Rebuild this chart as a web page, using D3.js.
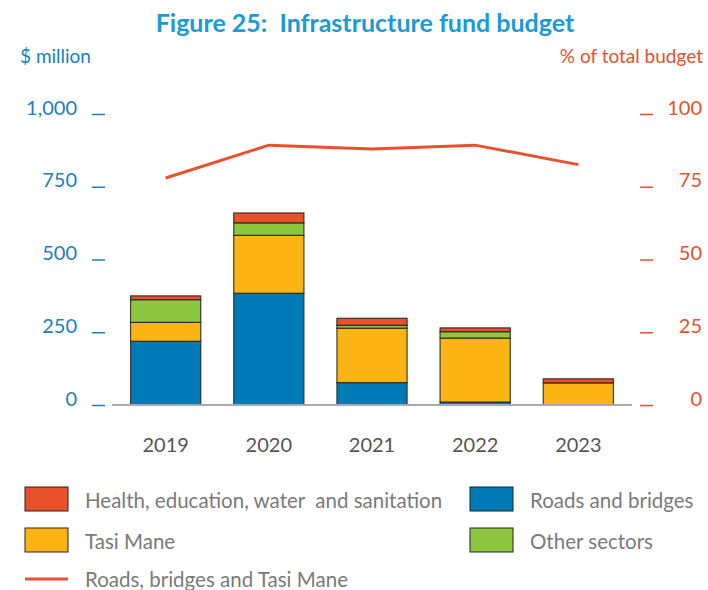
<!DOCTYPE html>
<html>
<head>
<meta charset="utf-8">
<script src="https://cdn.jsdelivr.net/npm/d3@7"></script>
<style>
  body { margin: 0; background: #fff; }
  svg { font-family: Lato, "Open Sans", sans-serif; }
  text { white-space: pre; }
</style>
</head>
<body>
<div class="graph"></div>
<script>
const years = ["2019", "2020", "2021", "2022", "2023"];
const roadsBridges = [219, 384, 77, 10, 1];
const tasiMane = [65, 199, 187, 220, 75];
const otherSectors = [78, 43, 10, 22, 0];
const healthEdu = [13, 34, 24, 13, 14];
const sharePct = [78, 89.3, 88, 89.3, 82.6];
const leftTicks = [0, 250, 500, 750, 1000];
const rightTicks = [0, 25, 50, 75, 100];

const width = 708, height = 590;
const blue = "#007bb8", yellow = "#fcb415", green = "#8dc63f", red = "#e8512b";

const rows = years.map((y, i) => ({
    year: y,
    roads: roadsBridges[i],
    tasi: tasiMane[i],
    other: otherSectors[i],
    health: healthEdu[i]
}));
const keys = ["roads", "tasi", "other", "health"];
const colors = {roads: blue, tasi: yellow, other: green, health: red};
const stacked = d3.stack().keys(keys)(rows);

const svg = d3.select(".graph").append("svg")
    .attr("width", width)
    .attr("height", height);

const x = d3.scaleBand()
    .domain(years)
    .range([112, 632])
    .paddingInner(0.32)
    .paddingOuter(0.18);

const y = d3.scaleLinear().domain([0, 1000]).range([405, 114]);
const yPct = d3.scaleLinear().domain([0, 100]).range([405, 114]);

// title and axis titles
svg.append("text")
    .attr("x", 365).attr("y", 32)
    .attr("text-anchor", "middle")
    .style("font-size", "25px").style("font-weight", "bold")
    .style("fill", "#1a9ad6")
    .text("Figure 25:  Infrastructure fund budget");

svg.append("text")
    .attr("x", 20).attr("y", 63)
    .style("font-size", "19px").style("fill", "#1a80c0")
    .text("$ million");

svg.append("text")
    .attr("x", 703).attr("y", 63)
    .attr("text-anchor", "end")
    .style("font-size", "19px").style("fill", red)
    .text("% of total budget");

// bars
svg.append("g")
    .selectAll("g")
    .data(stacked)
    .join("g")
    .attr("fill", d => colors[d.key])
    .selectAll("rect")
    .data(d => d)
    .join("rect")
    .attr("x", d => x(d.data.year))
    .attr("width", x.bandwidth())
    .attr("y", d => y(d[1]))
    .attr("height", d => y(d[0]) - y(d[1]))
    .attr("stroke", "#222")
    .attr("stroke-opacity", 0.85)
    .attr("stroke-width", 1.2);

// baseline
svg.append("line")
    .attr("x1", 112).attr("x2", 632)
    .attr("y1", y(0)).attr("y2", y(0))
    .style("stroke", "#aaa")
    .style("stroke-width", 2);

// left axis
svg.append("g")
    .attr("transform", "translate(105,0)")
    .call(d3.axisLeft(y).tickValues(leftTicks).tickSize(13).tickPadding(15)
        .tickFormat(d3.format(",")))
    .call(g => g.select(".domain").remove())
    .call(g => g.selectAll("line").attr("stroke", "#1a80c0").attr("stroke-width", 1.5))
    .call(g => g.selectAll("text").attr("dy", 0).attr("fill", "#1a80c0")
        .style("font-size", "20px").style("font-family", "Lato, sans-serif"));

// right axis
svg.append("g")
    .attr("transform", "translate(640,0)")
    .call(d3.axisRight(yPct).tickValues(rightTicks).tickSize(13))
    .call(g => g.select(".domain").remove())
    .call(g => g.selectAll("line").attr("stroke", red).attr("stroke-width", 1.5))
    .call(g => g.selectAll("text").attr("dy", 0).attr("x", 62)
        .attr("text-anchor", "end").attr("fill", red)
        .style("font-size", "20px").style("font-family", "Lato, sans-serif"));

// x labels
svg.append("g")
    .attr("transform", "translate(0,452)")
    .call(d3.axisBottom(x).tickSize(0).tickPadding(0))
    .call(g => g.select(".domain").remove())
    .call(g => g.selectAll("text").attr("dy", 0).attr("fill", "#555")
        .style("font-size", "20px").style("font-family", "Lato, sans-serif"));

// share line
const line = d3.line()
    .x((d, i) => x(years[i]) + x.bandwidth() / 2)
    .y(d => yPct(d));

svg.append("path")
    .datum(sharePct)
    .attr("d", line)
    .attr("fill", "none")
    .attr("stroke", red)
    .attr("stroke-width", 3);

// legend
const legendItems = [
    {label: "Health, education, water  and sanitation", color: red, x: 25, y: 487},
    {label: "Roads and bridges", color: blue, x: 470, y: 487},
    {label: "Tasi Mane", color: yellow, x: 25, y: 528},
    {label: "Other sectors", color: green, x: 470, y: 528}
];

const legend = svg.append("g");
legend.selectAll("rect")
    .data(legendItems)
    .join("rect")
    .attr("x", d => d.x).attr("y", d => d.y)
    .attr("width", 43).attr("height", 24)
    .attr("fill", d => d.color)
    .attr("stroke", "#222").attr("stroke-width", 1);

legend.selectAll("text")
    .data(legendItems)
    .join("text")
    .attr("x", d => d.x + 60).attr("y", d => d.y + 21)
    .style("font-size", "20.5px").style("fill", "#7a7a7a")
    .text(d => d.label);

legend.append("line")
    .attr("x1", 25).attr("x2", 68)
    .attr("y1", 579).attr("y2", 579)
    .attr("stroke", red).attr("stroke-width", 3);

legend.append("text")
    .attr("x", 85).attr("y", 587)
    .style("font-size", "20.5px").style("fill", "#7a7a7a")
    .text("Roads, bridges and Tasi Mane");
</script>
</body>
</html>
